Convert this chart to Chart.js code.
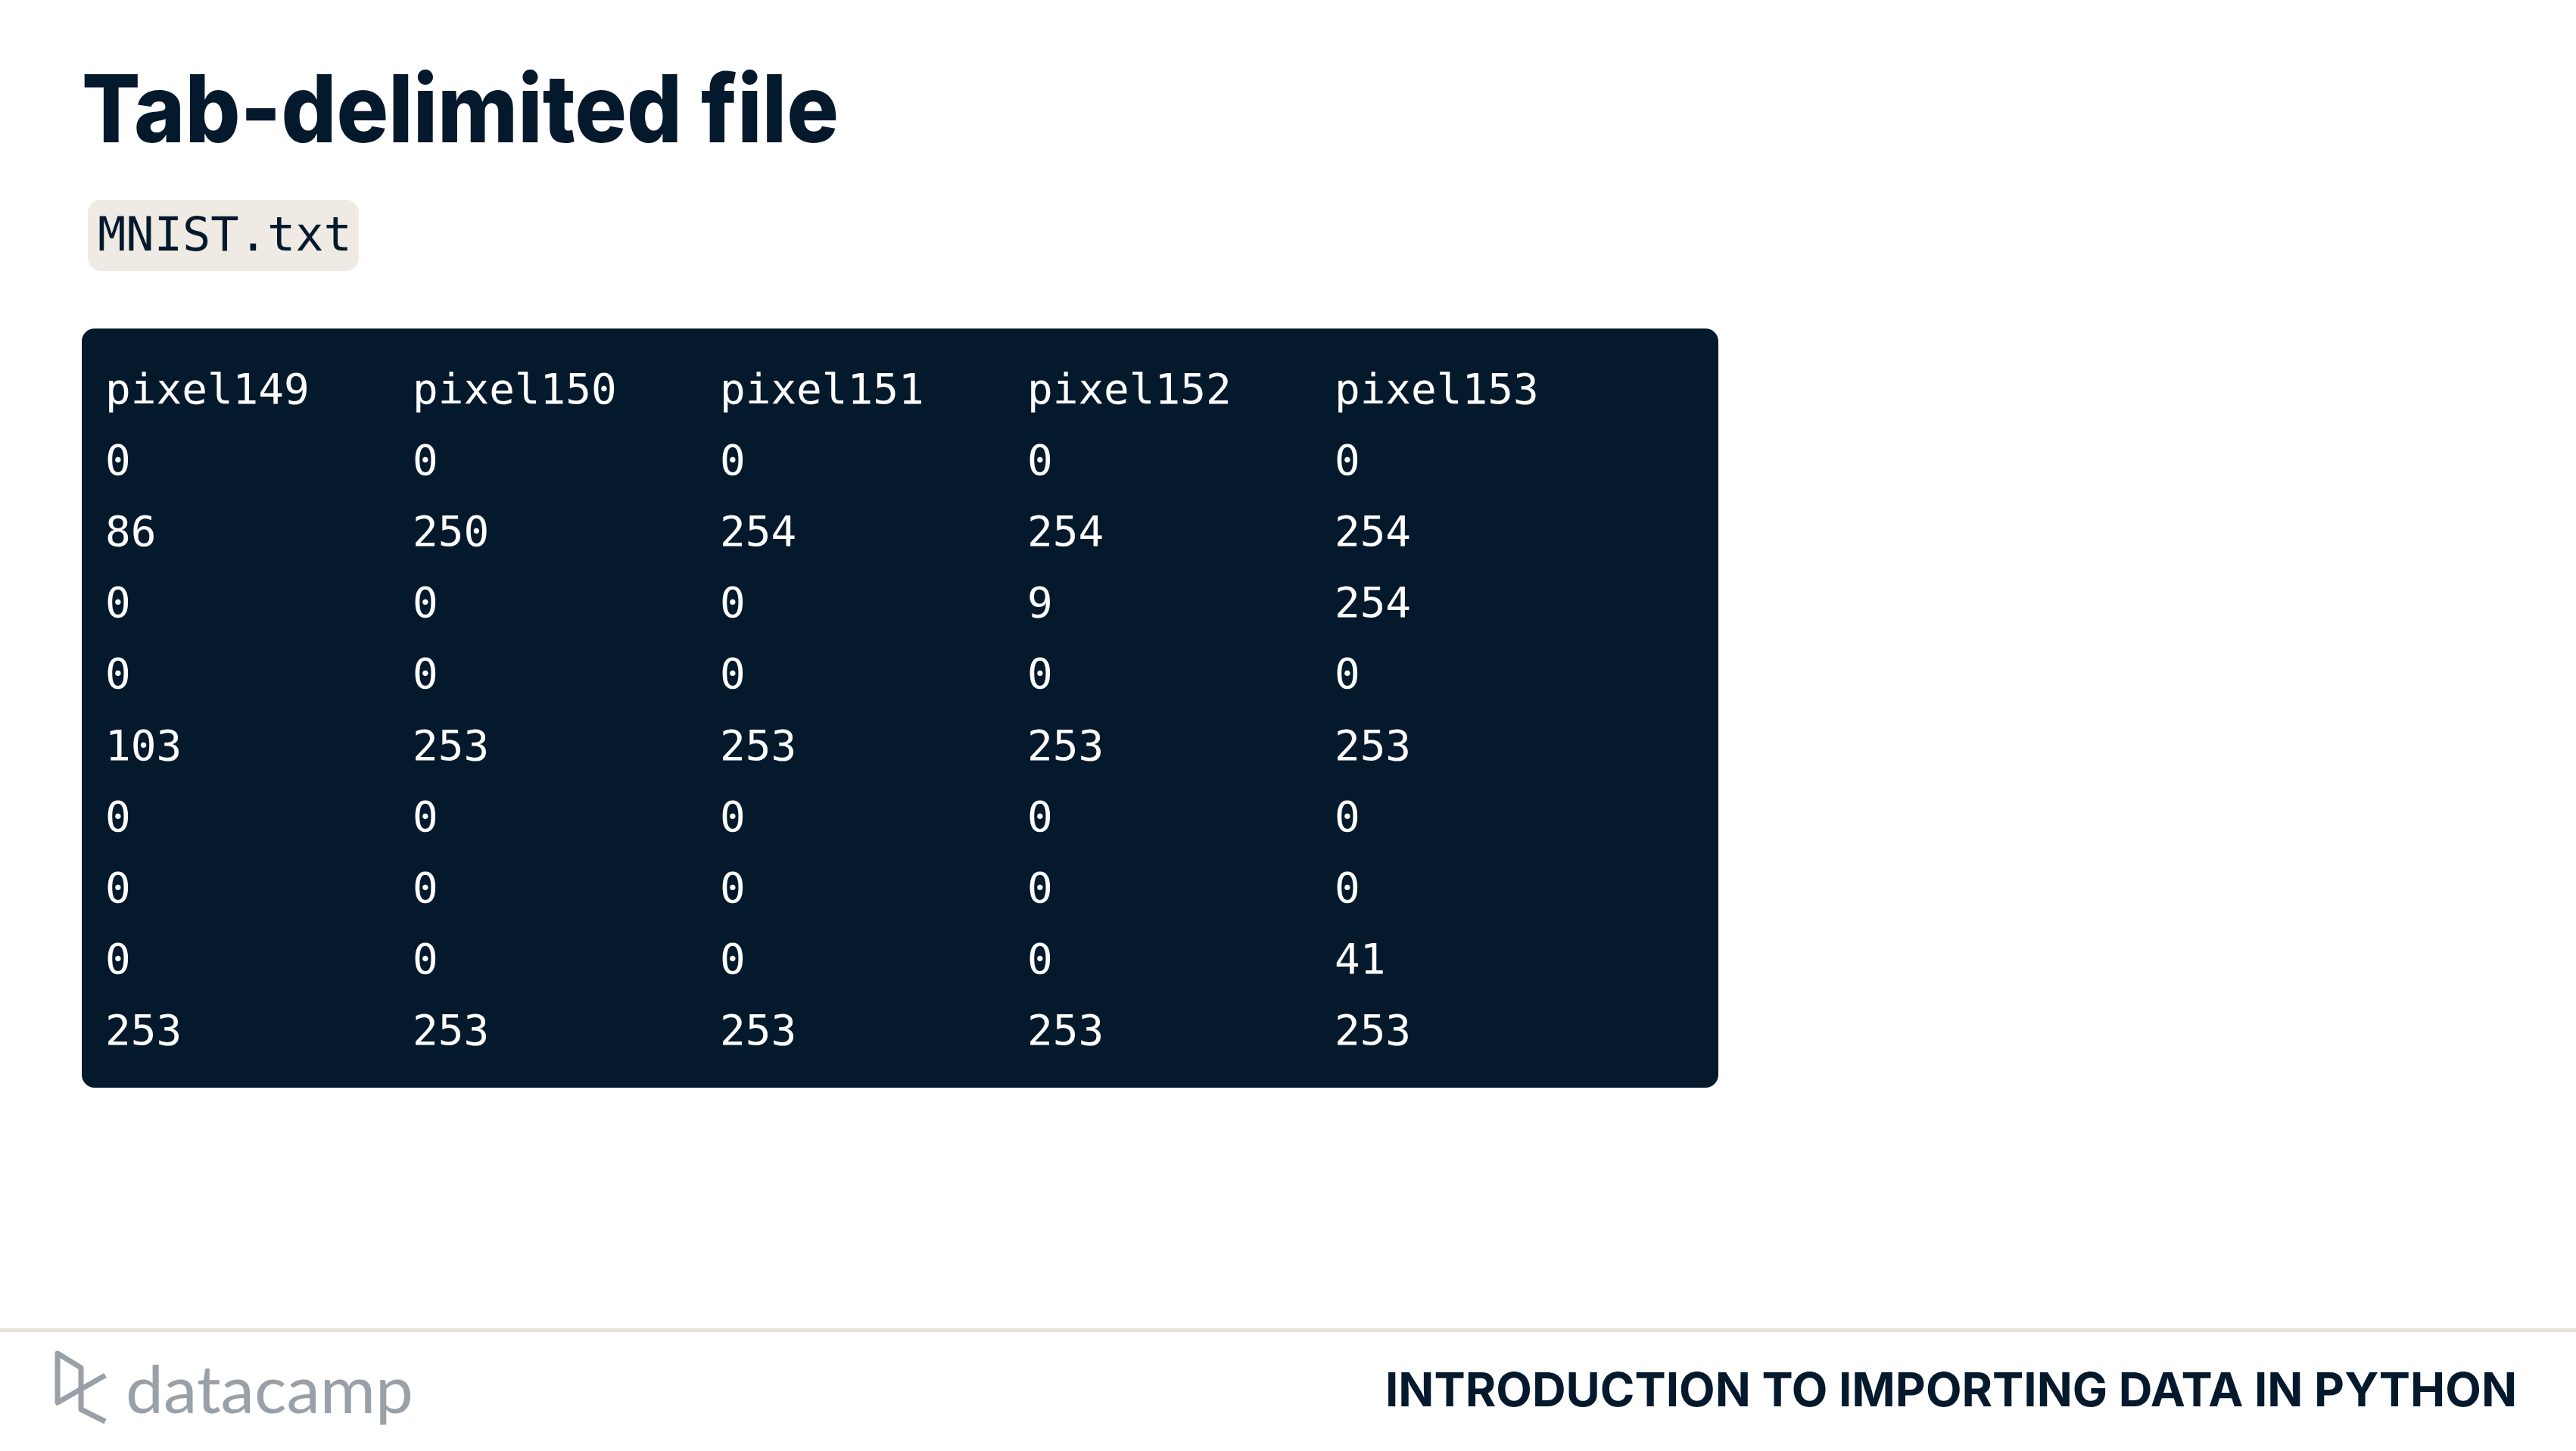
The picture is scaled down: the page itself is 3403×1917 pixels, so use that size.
<!DOCTYPE html>
<html>
<head>
<meta charset="utf-8">
<script src="https://cdn.jsdelivr.net/npm/chart.js@4/dist/chart.umd.min.js"></script>
<style>
  html, body { margin: 0; padding: 0; background: #ffffff; }
  body { width: 3403px; height: 1917px; position: relative; overflow: hidden; }
  #overlay { position: absolute; left: 0; top: 0; }
  #box { position: absolute; left: 108px; top: 434px; width: 2162px; height: 1003px;
         background: #05192d; border-radius: 17px; }
</style>
</head>
<body>
<svg id="overlay" width="3403" height="1917" xmlns="http://www.w3.org/2000/svg">
  <text x="108" y="188" font-family="Inter" font-weight="800" font-size="124" fill="#05192d"
        textLength="1000" lengthAdjust="spacingAndGlyphs">Tab-delimited file</text>
  <rect x="116" y="264" width="358" height="94" rx="17" ry="17" fill="#efebe4"/>
  <text x="129" y="331" font-family="DejaVu Sans Mono" font-size="62" fill="#05192d">MNIST.txt</text>
  <rect x="0" y="1755" width="3403" height="5" fill="#e5e1da"/>
  <path d="M139,1817 L76,1853 L76,1788 L107,1807 L107,1862 L139,1878" fill="none" stroke="#99a0a7"
        stroke-width="7" stroke-linejoin="round" stroke-linecap="butt"/>
  <text x="166" y="1867" font-family="Lato" font-size="88" fill="#99a0a7"
        textLength="380" lengthAdjust="spacingAndGlyphs">datacamp</text>
  <text x="1830" y="1858" font-family="Inter" font-weight="700" font-size="62" fill="#05192d"
        textLength="1495" lengthAdjust="spacingAndGlyphs">INTRODUCTION TO IMPORTING DATA IN PYTHON</text>
</svg>
<div id="box"><canvas id="c" width="2162" height="1003"></canvas></div>
<script>
// ---- table data ----
const columns = ['pixel149', 'pixel150', 'pixel151', 'pixel152', 'pixel153'];
const pixel149 = [0, 86, 0, 0, 103, 0, 0, 0, 253];
const pixel150 = [0, 250, 0, 0, 253, 0, 0, 0, 253];
const pixel151 = [0, 254, 0, 0, 253, 0, 0, 0, 253];
const pixel152 = [0, 254, 9, 0, 253, 0, 0, 0, 253];
const pixel153 = [0, 254, 254, 0, 253, 0, 0, 41, 253];
const columnValues = [pixel149, pixel150, pixel151, pixel152, pixel153];

// one dataset per column: header row at y=0, data rows at y=1..n
const datasets = columns.map((name, ci) => ({
  label: name,
  data: [{x: ci, y: 0, t: name}].concat(
    columnValues[ci].map((v, ri) => ({x: ci, y: ri + 1, t: String(v)}))
  ),
  pointRadius: 0,
  showLine: false
}));

const cellText = {
  id: 'cellText',
  afterDatasetsDraw(chart) {
    const ctx = chart.ctx;
    ctx.save();
    ctx.fillStyle = '#ffffff';
    ctx.font = '56px "DejaVu Sans Mono"';
    ctx.textAlign = 'left';
    ctx.textBaseline = 'alphabetic';
    chart.data.datasets.forEach((ds, di) => {
      const meta = chart.getDatasetMeta(di);
      meta.data.forEach((el, i) => {
        ctx.fillText(ds.data[i].t, el.x, el.y + 21);
      });
    });
    ctx.restore();
  }
};

new Chart(document.getElementById('c'), {
  type: 'scatter',
  data: { datasets },
  options: {
    responsive: false,
    animation: false,
    devicePixelRatio: 1,
    layout: { padding: 0 },
    plugins: { legend: { display: false }, tooltip: { enabled: false } },
    scales: {
      x: { type: 'linear', display: false, min: -0.0764, max: 5.249 },
      y: { type: 'linear', display: false, reverse: true, min: -0.829, max: 9.83 }
    }
  },
  plugins: [cellText]
});
</script>
</body>
</html>
